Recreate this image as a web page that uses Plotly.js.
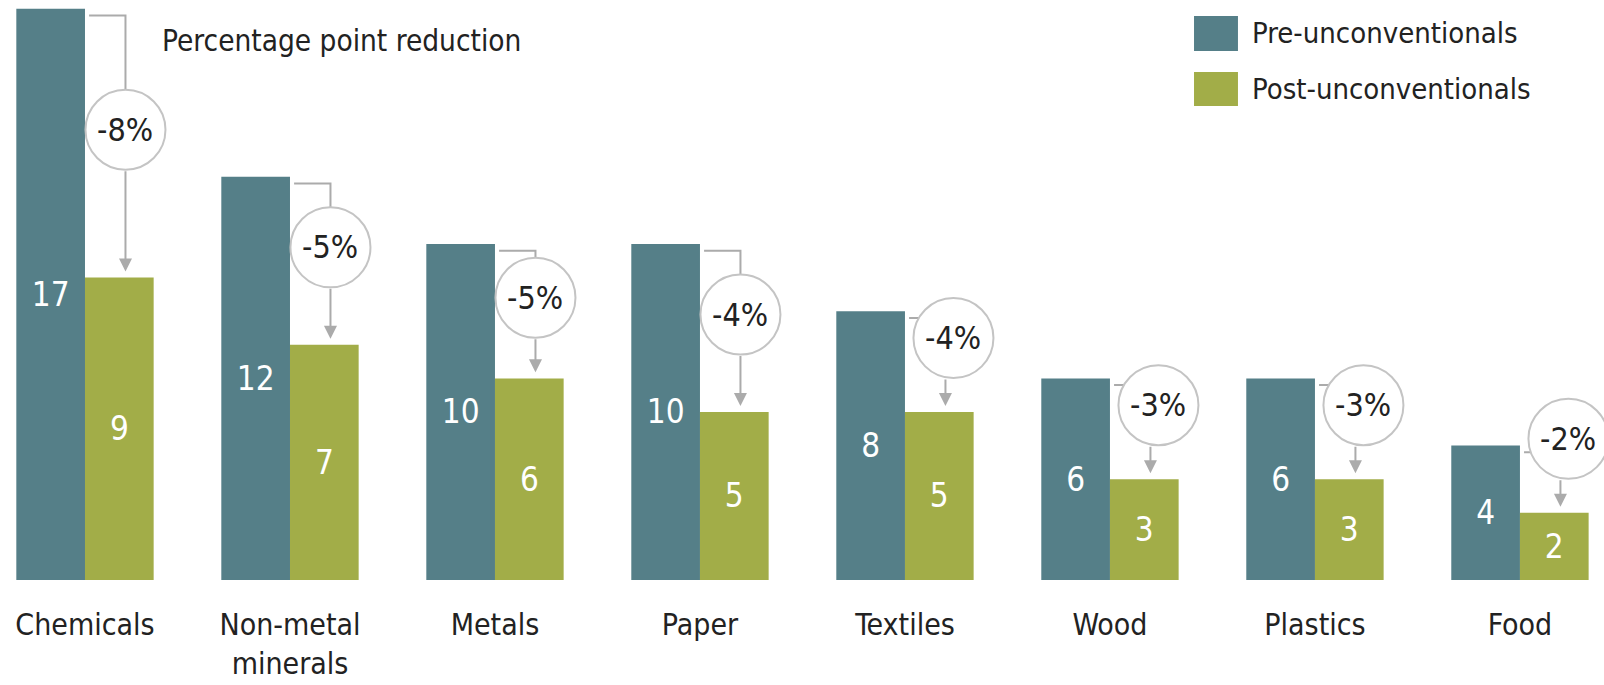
<!DOCTYPE html>
<html><head><meta charset="utf-8">
<script src="https://cdn.plot.ly/plotly-3.0.1.min.js"></script>
<style>html,body{margin:0;padding:0;background:#fff}#chart{width:1604px;height:685px}</style>
</head><body><div id="chart"></div>
<script>
const categories = ['Chemicals','Non-metal<br>minerals','Metals','Paper','Textiles','Wood','Plastics','Food'];
const preValues  = [17, 12, 10, 10, 8, 6, 6, 4];
const postValues = [9, 7, 6, 5, 5, 3, 3, 2];
const reductionLabels = ['-8%','-5%','-5%','-4%','-4%','-3%','-3%','-2%'];
const seriesNames = ['Pre-unconventionals','Post-unconventionals'];

const FONT = '"Liberation Sans Narrow", "DejaVu Sans Condensed", "Arial Narrow", sans-serif';
const PRE_COLOR = '#557f88', POST_COLOR = '#a2ad48', GREY = '#ababab';
const idx = categories.map((_, i) => i);
const BW = 0.335;

const traces = [
  {type:'bar', x: idx, y: preValues, name: seriesNames[0], marker:{color:PRE_COLOR},
   text: preValues.map(String), textposition:'inside', insidetextanchor:'middle',
   textfont:{family:FONT, size:33, color:'#fff'}, hoverinfo:'skip', cliponaxis:false},
  {type:'bar', x: idx, y: postValues, name: seriesNames[1], marker:{color:POST_COLOR},
   text: postValues.map(String), textposition:'inside', insidetextanchor:'middle',
   textfont:{family:FONT, size:33, color:'#fff'}, hoverinfo:'skip', cliponaxis:false}
];

const shapes = [], annotations = [];
const R = 40;
idx.forEach(i => {
  const pre = preValues[i], post = postValues[i];
  const xv = i + BW/2 + 0.03;
  const lineY = pre - 0.2;
  const cy = Math.max((pre + post)/2 + 0.4, post + 2.2);
  const circleTop = cy + R/33.6;
  const circleBot = cy - R/33.6;
  const shiftPx = (lineY < circleTop) ? 8 : 0;
  shapes.push({type:'path', xref:'x', yref:'y', layer:'above',
    path:`M ${i+0.02},${lineY} L ${xv},${lineY} L ${xv},${Math.max(circleBot, Math.min(lineY, circleTop))}`,
    line:{color:GREY, width:2}});
  shapes.push({type:'circle', xref:'x', yref:'y', layer:'above',
    xsizemode:'pixel', ysizemode:'pixel', xanchor: xv, yanchor: cy,
    x0:-R + shiftPx, x1:R + shiftPx, y0:-R, y1:R,
    fillcolor:'#fff', line:{color:'#c4c4c4', width:2}});
  annotations.push({x: xv, y: post + 0.18, xref:'x', yref:'y',
    ax: xv, ay: circleBot, axref:'x', ayref:'y', text:'', showarrow:true,
    arrowhead:2, arrowsize:1.3, arrowwidth:2, arrowcolor:GREY});
  annotations.push({x: xv, y: cy, xref:'x', yref:'y', xshift: shiftPx, text: reductionLabels[i],
    showarrow:false, font:{family:FONT, size:32, color:'#222'}});
});

shapes.push({type:'rect', xref:'paper', yref:'paper', x0:0.7444, x1:0.7718, y0:0.912, y1:0.9724,
  fillcolor:PRE_COLOR, line:{width:0}});
shapes.push({type:'rect', xref:'paper', yref:'paper', x0:0.7444, x1:0.7718, y0:0.8172, y1:0.8759,
  fillcolor:POST_COLOR, line:{width:0}});
annotations.push({xref:'paper', yref:'paper', x:0.7793, y:0.9425, xanchor:'left', yanchor:'middle',
  text:seriesNames[0], showarrow:false, font:{family:FONT, size:29, color:'#222'}});
annotations.push({xref:'paper', yref:'paper', x:0.7793, y:0.8465, xanchor:'left', yanchor:'middle',
  text:seriesNames[1], showarrow:false, font:{family:FONT, size:29, color:'#222'}});
annotations.push({xref:'paper', yref:'paper', x:0.1, y:0.93, xanchor:'left', yanchor:'middle',
  text:'Percentage point reduction', showarrow:false, font:{family:FONT, size:29.5, color:'#222'}});

const layout = {
  width:1604, height:685, margin:{l:0, r:0, t:0, b:105},
  paper_bgcolor:'#fff', plot_bgcolor:'#fff',
  barmode:'group', bargap:0.33, bargroupgap:0, showlegend:false,
  xaxis:{type:'linear', range:[-0.4146, 7.41], tickvals: idx, ticktext: categories,
    showgrid:false, zeroline:false, showline:false, ticks:'', ticklabelstandoff:24,
    tickfont:{family:FONT, size:30, color:'#222'}},
  yaxis:{range:[0, 17.26], visible:false, showgrid:false, zeroline:false},
  shapes, annotations,
  font:{family:FONT}
};
Plotly.newPlot('chart', traces, layout, {displayModeBar:false, staticPlot:true});
</script></body></html>
